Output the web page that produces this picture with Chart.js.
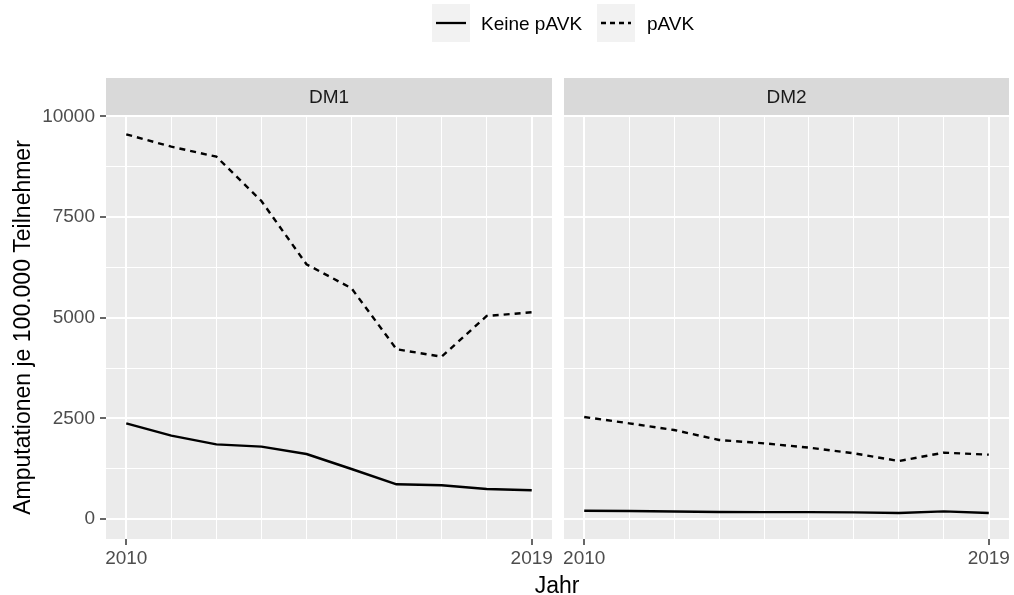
<!DOCTYPE html>
<html><head><meta charset="utf-8">
<script src="https://cdn.jsdelivr.net/npm/chart.js@4.4.1/dist/chart.umd.min.js"></script>
<style>
html,body{margin:0;padding:0;background:#fff;width:1014px;height:595px;overflow:hidden;font-family:"Liberation Sans",Arial,sans-serif;}
canvas{position:absolute;top:0;}
.box{position:absolute;top:4px;width:38px;height:38px;background:#F2F2F2;}
.lt{position:absolute;top:14px;font-size:19px;line-height:19px;color:#000;white-space:nowrap;}
#xt{position:absolute;left:407px;width:300px;top:574px;text-align:center;font-size:23px;line-height:23px;color:#000;}
</style></head>
<body>
<canvas id="c1" width="556" height="595" style="left:0"></canvas>
<canvas id="c2" width="458" height="595" style="left:556px"></canvas>
<div class="box" style="left:432px"><svg width="38" height="38"><line x1="4" y1="19" x2="34" y2="19" stroke="#000" stroke-width="2.3"/></svg></div>
<div class="lt" style="left:481px">Keine pAVK</div>
<div class="box" style="left:597px"><svg width="38" height="38"><line x1="4" y1="19" x2="34" y2="19" stroke="#000" stroke-width="2.3" stroke-dasharray="5,4"/></svg></div>
<div class="lt" style="left:647px">pAVK</div>
<div id="xt">Jahr</div>
<script>
const years = [2010, 2011, 2012, 2013, 2014, 2015, 2016, 2017, 2018, 2019];
const dm1Keine = [2377, 2070, 1855, 1797, 1615, 1242, 862, 837, 745, 713];
const dm1PAVK  = [9557, 9250, 9001, 7900, 6328, 5732, 4216, 4033, 5044, 5135];
const dm2Keine = [206, 200, 185, 175, 170, 170, 165, 150, 190, 150];
const dm2PAVK  = [2534, 2377, 2211, 1963, 1880, 1772, 1632, 1441, 1648, 1598];
const yTicks = [0, 1250, 2500, 3750, 5000, 6250, 7500, 8750, 10000];
const yLabels = [0, 2500, 5000, 7500, 10000];
const xLabels = [2010, 2019];
const seriesNames = ['Keine pAVK', 'pAVK'];

Chart.defaults.font.family = '"Liberation Sans", Arial, sans-serif';

const panelPlugin = {
  id: 'panel',
  beforeDraw(chart, args, opts) {
    const ctx = chart.ctx, a = chart.chartArea;
    ctx.save();
    ctx.fillStyle = '#EBEBEB';
    ctx.fillRect(a.left, a.top, a.right - a.left, a.bottom - a.top);
    ctx.fillStyle = '#D9D9D9';
    ctx.fillRect(a.left, a.top - 38, a.right - a.left, 38);
    ctx.fillStyle = '#1A1A1A';
    ctx.font = '19px "Liberation Sans", Arial, sans-serif';
    ctx.textAlign = 'center';
    ctx.textBaseline = 'middle';
    ctx.fillText(opts.label, (a.left + a.right) / 2, a.top - 18);
    ctx.restore();
  }
};

function pts(arr) { return years.map((x, i) => ({ x: x, y: arr[i] })); }

function makeChart(id, label, keine, pavk, first, rightPad) {
  return new Chart(document.getElementById(id), {
    type: 'line',
    data: {
      datasets: [
        { label: seriesNames[0], data: pts(keine), borderColor: '#000', borderWidth: 2.4, pointRadius: 0, tension: 0, fill: false, borderJoinStyle: 'round' },
        { label: seriesNames[1], data: pts(pavk), borderColor: '#000', borderWidth: 2.4, pointRadius: 0, tension: 0, fill: false, borderDash: [6, 5] }
      ]
    },
    options: {
      responsive: false,
      animation: false,
      devicePixelRatio: 1,
      layout: { padding: { top: 116, right: rightPad, bottom: 0, left: 0 } },
      plugins: { legend: { display: false }, tooltip: { enabled: false }, panel: { label: label } },
      scales: {
        x: {
          type: 'linear', min: 2009.55, max: 2019.45,
          afterBuildTicks: s => { s.ticks = years.map(v => ({ value: v })); },
          afterFit: s => { s.height = 56; },
          border: { display: false },
          grid: {
            color: '#FFFFFF',
            lineWidth: c => (c.tick && xLabels.includes(c.tick.value)) ? 2 : 1,
            tickColor: c => (c.tick && xLabels.includes(c.tick.value)) ? '#333333' : 'rgba(0,0,0,0)',
            tickLength: 6, tickWidth: 1.5
          },
          ticks: {
            autoSkip: false, maxRotation: 0, minRotation: 0, padding: 2,
            font: { size: 19 }, color: '#4D4D4D',
            callback: v => xLabels.includes(v) ? String(v) : ''
          }
        },
        y: {
          type: 'linear', min: -497, max: 10012,
          afterBuildTicks: s => { s.ticks = yTicks.map(v => ({ value: v })); },
          afterFit: s => { s.width = first ? 106 : 8; },
          border: { display: false },
          grid: {
            color: '#FFFFFF',
            lineWidth: c => (c.tick && yLabels.includes(c.tick.value)) ? 2 : 1,
            tickColor: c => (first && c.tick && yLabels.includes(c.tick.value)) ? '#333333' : 'rgba(0,0,0,0)',
            tickLength: 6, tickWidth: 1.5, drawTicks: first
          },
          ticks: {
            display: first, autoSkip: false, padding: 5,
            font: { size: 19 }, color: '#4D4D4D',
            callback: v => yLabels.includes(v) ? String(v) : ''
          },
          title: {
            display: first, text: 'Amputationen je 100.000 Teilnehmer',
            font: { size: 23 }, color: '#000', padding: { top: 10, bottom: 0 }
          }
        }
      }
    },
    plugins: [panelPlugin]
  });
}

makeChart('c1', 'DM1', dm1Keine, dm1PAVK, true, 4);
makeChart('c2', 'DM2', dm2Keine, dm2PAVK, false, 5);
</script>
</body></html>
